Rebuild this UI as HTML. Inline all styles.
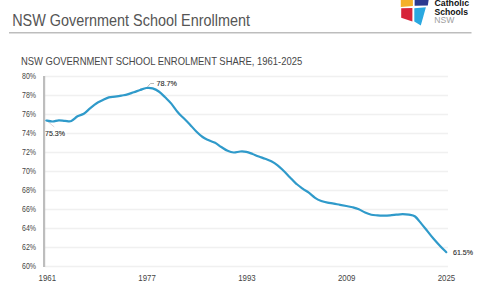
<!DOCTYPE html>
<html><head><meta charset="utf-8"><style>
html,body{margin:0;padding:0;background:#fff;width:480px;height:301px;overflow:hidden}
svg{display:block;font-family:"Liberation Sans",sans-serif}
</style></head><body>
<svg width="480" height="301" viewBox="0 0 480 301">
<text x="12.2" y="26" font-size="15.6" fill="#555555" textLength="237.8" lengthAdjust="spacingAndGlyphs">NSW Government School Enrollment</text>
<line x1="9" y1="32.8" x2="471.5" y2="32.8" stroke="#BDBDBD" stroke-width="1.5"/>
<g>
<path d="M400.8,-1 L412.9,-1 L412.9,6 L400.8,7 Z" fill="#F4B12A"/>
<path d="M414.6,-1 L428.8,-1 L427.8,5.4 L414.6,5.8 Z" fill="#2B3990"/>
<path d="M401.2,8.2 L412.4,7.9 L412.4,21.4 L401.2,17.8 Z" fill="#D6243A"/>
<path d="M414.3,8.2 L425.9,7.3 Q423.5,16 420.8,25.6 L414.3,21.4 Z" fill="#2AA8E0"/>
</g>
<g font-weight="bold" fill="#111111" font-size="9.4">
<text x="434.5" y="6.3" textLength="34.5" lengthAdjust="spacingAndGlyphs">Catholic</text>
<text x="434.5" y="14.5" textLength="33.5" lengthAdjust="spacingAndGlyphs">Schools</text>
</g>
<text x="434.3" y="23" font-size="9.8" fill="#A0A0A0" textLength="20" lengthAdjust="spacingAndGlyphs">NSW</text>

<text x="21" y="65" font-size="10.3" fill="#474747" textLength="281.2" lengthAdjust="spacingAndGlyphs">NSW GOVERNMENT SCHOOL ENROLMENT SHARE, 1961-2025</text>
<g stroke="#F0F0F0" stroke-width="1.3"><line x1="45" y1="76.5" x2="448" y2="76.5"/><line x1="45" y1="95.5" x2="448" y2="95.5"/><line x1="45" y1="114.5" x2="448" y2="114.5"/><line x1="45" y1="133.5" x2="448" y2="133.5"/><line x1="45" y1="152.5" x2="448" y2="152.5"/><line x1="45" y1="171.5" x2="448" y2="171.5"/><line x1="45" y1="190.5" x2="448" y2="190.5"/><line x1="45" y1="209.5" x2="448" y2="209.5"/><line x1="45" y1="228.5" x2="448" y2="228.5"/><line x1="45" y1="247.5" x2="448" y2="247.5"/><line x1="45" y1="266.5" x2="448" y2="266.5"/></g>
<g font-size="9" fill="#454545"><text x="36" y="79.0" text-anchor="end" textLength="14" lengthAdjust="spacingAndGlyphs">80%</text><text x="36" y="98.0" text-anchor="end" textLength="14" lengthAdjust="spacingAndGlyphs">78%</text><text x="36" y="117.0" text-anchor="end" textLength="14" lengthAdjust="spacingAndGlyphs">76%</text><text x="36" y="136.0" text-anchor="end" textLength="14" lengthAdjust="spacingAndGlyphs">74%</text><text x="36" y="155.0" text-anchor="end" textLength="14" lengthAdjust="spacingAndGlyphs">72%</text><text x="36" y="174.0" text-anchor="end" textLength="14" lengthAdjust="spacingAndGlyphs">70%</text><text x="36" y="193.0" text-anchor="end" textLength="14" lengthAdjust="spacingAndGlyphs">68%</text><text x="36" y="212.0" text-anchor="end" textLength="14" lengthAdjust="spacingAndGlyphs">66%</text><text x="36" y="231.0" text-anchor="end" textLength="14" lengthAdjust="spacingAndGlyphs">64%</text><text x="36" y="250.0" text-anchor="end" textLength="14" lengthAdjust="spacingAndGlyphs">62%</text><text x="36" y="269.0" text-anchor="end" textLength="14" lengthAdjust="spacingAndGlyphs">60%</text></g>
<g font-size="9.2" fill="#454545"><text x="47.3" y="281" text-anchor="middle" textLength="17.5" lengthAdjust="spacingAndGlyphs">1961</text><text x="147.1" y="281" text-anchor="middle" textLength="17.5" lengthAdjust="spacingAndGlyphs">1977</text><text x="246.9" y="281" text-anchor="middle" textLength="17.5" lengthAdjust="spacingAndGlyphs">1993</text><text x="346.7" y="281" text-anchor="middle" textLength="17.5" lengthAdjust="spacingAndGlyphs">2009</text><text x="446.5" y="281" text-anchor="middle" textLength="17.5" lengthAdjust="spacingAndGlyphs">2025</text></g>
<line x1="44.1" y1="76" x2="44.1" y2="267" stroke="#BDBDBD" stroke-width="2.2"/>
<path d="M48,121.7 L54.3,127" stroke="#D8C8CC" stroke-width="0.8" fill="none"/>
<path d="M147.5,86.8 L150.5,83.5 L154,83.5" stroke="#A6A6A6" stroke-width="0.8" fill="none"/>
<path d="M46.3,120.5 C47.3,120.7 50.5,121.5 52.5,121.5 C54.6,121.5 56.7,120.4 58.8,120.3 C60.9,120.2 63.0,120.7 65.0,120.8 C67.1,120.9 69.2,121.8 71.3,121.0 C73.4,120.2 75.5,117.5 77.5,116.3 C79.6,115.1 81.7,115.1 83.8,113.8 C85.9,112.5 88.0,110.1 90.0,108.4 C92.1,106.7 94.2,104.8 96.3,103.5 C98.4,102.2 100.5,101.3 102.5,100.3 C104.6,99.3 106.7,98.0 108.8,97.4 C110.9,96.8 113.0,96.9 115.0,96.6 C117.1,96.3 119.2,96.0 121.3,95.6 C123.4,95.2 125.5,95.0 127.5,94.4 C129.6,93.8 131.7,92.9 133.8,92.2 C135.9,91.5 138.0,90.7 140.1,90.0 C142.1,89.3 144.2,88.3 146.3,88.0 C148.4,87.7 150.5,87.8 152.6,88.4 C154.6,89.0 156.7,90.0 158.8,91.5 C160.9,93.0 163.0,95.2 165.1,97.2 C167.1,99.2 169.2,101.1 171.3,103.6 C173.4,106.1 175.5,109.5 177.6,112.0 C179.6,114.5 181.7,116.2 183.8,118.3 C185.9,120.4 188.0,122.5 190.1,124.7 C192.1,126.9 194.2,129.4 196.3,131.5 C198.4,133.6 200.5,135.5 202.6,137.0 C204.6,138.5 206.7,139.3 208.8,140.3 C210.9,141.3 213.0,141.7 215.1,142.8 C217.1,143.9 219.2,145.7 221.3,147.0 C223.4,148.3 225.5,149.9 227.6,150.8 C229.6,151.7 231.7,152.4 233.8,152.5 C235.9,152.6 238.0,151.6 240.1,151.5 C242.1,151.4 244.2,151.4 246.3,151.8 C248.4,152.2 250.5,153.2 252.6,154.0 C254.6,154.8 256.7,155.7 258.8,156.5 C260.9,157.3 263.0,158.0 265.1,158.8 C267.1,159.6 269.2,160.2 271.3,161.3 C273.4,162.4 275.5,163.7 277.6,165.3 C279.6,166.9 281.7,169.0 283.8,171.0 C285.9,173.0 288.0,175.4 290.1,177.5 C292.1,179.6 294.2,182.0 296.3,183.8 C298.4,185.7 300.5,187.1 302.6,188.6 C304.6,190.1 306.7,191.2 308.8,192.7 C310.9,194.2 313.0,196.4 315.1,197.8 C317.1,199.2 319.2,200.2 321.3,201.0 C323.4,201.8 325.5,202.2 327.6,202.6 C329.6,203.0 331.7,203.3 333.8,203.7 C335.9,204.1 338.0,204.4 340.1,204.8 C342.1,205.2 344.2,205.6 346.3,206.0 C348.4,206.4 350.5,206.8 352.6,207.3 C354.6,207.8 356.7,208.3 358.8,209.2 C360.9,210.1 363.0,211.6 365.1,212.5 C367.1,213.4 369.2,214.2 371.3,214.7 C373.4,215.2 375.5,215.2 377.6,215.4 C379.6,215.6 381.7,215.6 383.8,215.6 C385.9,215.6 388.0,215.5 390.1,215.3 C392.1,215.2 394.2,214.9 396.3,214.7 C398.4,214.5 400.5,214.2 402.6,214.2 C404.6,214.2 406.7,214.3 408.8,214.7 C410.9,215.1 413.0,215.0 415.1,216.5 C417.1,218.0 419.2,221.1 421.3,223.6 C423.4,226.1 425.5,228.8 427.6,231.4 C429.6,234.0 431.7,236.6 433.8,239.0 C435.9,241.4 438.0,243.8 440.1,246.0 C442.1,248.2 445.3,251.2 446.3,252.2" stroke="#2F9ACA" stroke-width="2.2" fill="none" stroke-linejoin="round" stroke-linecap="round"/>
<rect x="45.5" y="129" width="21" height="7.5" fill="#fff"/>
<g font-size="7.6" fill="#2A2A2A" stroke="#2A2A2A" stroke-width="0.12">
<text x="45" y="135.7" textLength="20" lengthAdjust="spacingAndGlyphs">75.3%</text>
<text x="156.5" y="85.8" textLength="20.5" lengthAdjust="spacingAndGlyphs">78.7%</text>
<text x="453" y="254.7" textLength="20" lengthAdjust="spacingAndGlyphs">61.5%</text>
</g>
</svg>
</body></html>
